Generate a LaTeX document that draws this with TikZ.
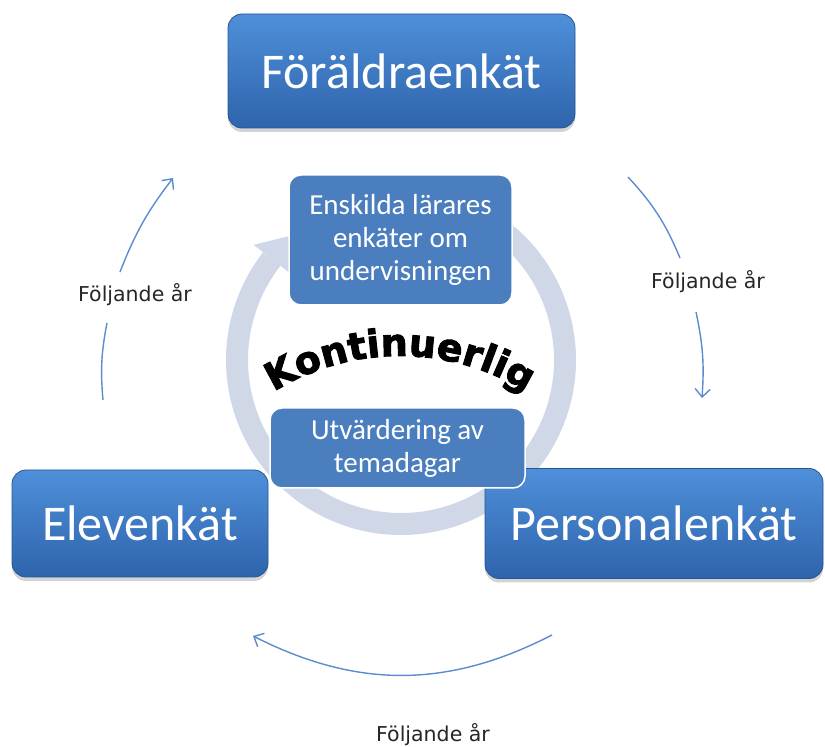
\documentclass[tikz,border=0pt]{standalone}
\usepackage{fontspec}
\setmainfont{Carlito}
\newfontfamily\lblfont{DejaVu Sans}
\newfontfamily\kfont[BoldFeatures={FakeBold=2.5}]{DejaVu Sans}
\usetikzlibrary{shadows,decorations.text,arrows.meta}
\definecolor{ringc}{HTML}{D0D8E8}
\definecolor{bigtop}{HTML}{4F8FDA}
\definecolor{bigbot}{HTML}{2E64AC}
\definecolor{smallc}{HTML}{4A7EBF}
\definecolor{thinc}{HTML}{5B8CCF}
\definecolor{lblc}{HTML}{262626}
\begin{document}
\begin{tikzpicture}[x=1pt,y=1pt,
  bigbox/.style={rounded corners=14pt, top color=bigtop, bottom color=bigbot,
    draw=bigbot!85!black, line width=0.8pt, text=white,
    font=\fontsize{50}{50}\selectfont,
    drop shadow={opacity=0.35, shadow xshift=0pt, shadow yshift=-4pt},
    inner sep=0pt},
  smallbox/.style={rounded corners=12pt, fill=smallc, draw=white, line width=1.5pt,
    text=white, font=\fontsize{29}{33}\selectfont, align=center, inner sep=0pt},
  yearlbl/.style={font=\lblfont\fontsize{20.5}{24}\selectfont, text=lblc},
  yeararc/.style={draw=thinc, line width=1.4pt},
  yeararrow/.style={yeararc, -{Straight Barb[length=8pt,width=15pt]}},
]
\useasboundingbox (0,0) rectangle (825,747);

% ring with arrow head
\coordinate (rc) at (401,387);
\draw[ringc, line width=22pt] ([shift={(55:164)}]rc) arc[start angle=55, end angle=-218, radius=164];
\fill[ringc] ([shift={(142:187)}]rc) -- ([shift={(130:164)}]rc) -- ([shift={(142:141)}]rc) -- cycle;

% curved word
\path[decorate, decoration={text along path, text align=center,
  text={|\kfont\bfseries\fontsize{38}{38}\selectfont|Kontinuerlig}}]
  (400,151) ++(145:240) arc[start angle=145, end angle=35, radius=240];

% big boxes
\node[bigbox, minimum width=347pt, minimum height=114pt] (par) at (401.5,676) {Föräldraenkät};
\node[bigbox, minimum width=256pt, minimum height=107pt] (elev) at (140,223.5) {Elevenkät};
\node[bigbox, minimum width=338pt, minimum height=110pt] (pers) at (654,223.5) {Personalenkät};

% inner boxes
\node[smallbox, minimum width=223pt, minimum height=130pt] (ensk) at (400.5,507) {Enskilda lärares\\enkäter om\\undervisningen};
\node[smallbox, minimum width=255pt, minimum height=80pt] (utv) at (397.5,299) {Utvärdering av\\temadagar};

% year labels
\node[yearlbl] (yr1) at (708,465) {Följande år};
\node[yearlbl] (yr2) at (135,452) {Följande år};
\node[yearlbl] (yr3) at (433,12) {Följande år};

% thin arrows
\coordinate (a1) at (628,570);
\coordinate (a2) at (680,489);
\coordinate (b1) at (696,435);
\coordinate (b2) at (702,349);
\coordinate (c1) at (103,347);
\coordinate (c2) at (107,424);
\coordinate (d1) at (120,475);
\coordinate (d2) at (173,569);
\coordinate (e1) at (552,112);
\coordinate (e2) at (253,111);
\draw[yeararc] (a1) to[bend left=10] (a2);
\draw[yeararrow] (b1) to[bend left=8] (b2);
\draw[yeararc] (c1) to[bend left=8] (c2);
\draw[yeararrow] (d1) to[bend left=8] (d2);
\draw[yeararrow] (e1) to[bend left=27] (e2);
\end{tikzpicture}
\end{document}
